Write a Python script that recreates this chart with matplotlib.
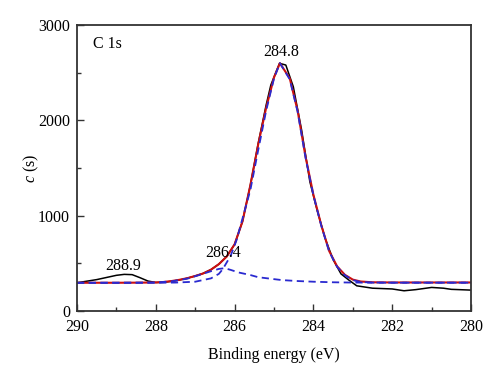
import numpy as np
import matplotlib.pyplot as plt
from matplotlib.ticker import MultipleLocator

e_exp = [290, 289.5, 289.0, 288.8, 288.6, 288.4, 288.2, 288.0, 287.8, 287.6,
         287.4, 287.2, 287.0, 286.8, 286.6, 286.4, 286.2, 286.0, 285.8, 285.6,
         285.4, 285.2, 285.08, 284.86, 284.7, 284.51, 284.3, 284.09, 283.9, 283.7,
         283.5, 283.3, 283.1, 282.9, 282.5, 282.0, 281.7, 281.4, 281.0, 280.7,
         280.5, 280.0]
c_exp = [297, 330, 375, 385, 382, 350, 315, 300, 302, 312,
         326, 345, 368, 395, 435, 492, 572, 700, 940, 1320,
         1760, 2160, 2371, 2598, 2580, 2353, 1900, 1357, 1050, 760,
         540, 390, 325, 265, 240, 232, 213, 225, 248, 240,
         228, 220]

e_fit = [290, 289.5, 289.0, 288.5, 288.0, 287.8, 287.6, 287.4, 287.2, 287.0,
         286.8, 286.6, 286.4, 286.2, 286.0, 285.8, 285.6, 285.4, 285.2, 285.0,
         284.85, 284.6, 284.4, 284.2, 284.0, 283.8, 283.6, 283.4, 283.2, 283.0,
         282.8, 282.5, 282.0, 281.0, 280.0]
c_fit = [297, 297, 297, 298, 300, 305, 315, 328, 345, 368,
         394, 434, 492, 572, 700, 940, 1320, 1750, 2130, 2450,
         2600, 2440, 2100, 1620, 1220, 900, 630, 470, 380, 330,
         310, 302, 300, 300, 300]

e_p1 = [290, 289.0, 288.0, 287.5, 287.0, 286.6, 286.4, 286.3, 286.1, 285.95,
        285.8, 285.6, 285.4, 285.2, 285.0, 284.85, 284.6, 284.4, 284.2, 284.0,
        283.8, 283.6, 283.4, 283.2, 283.0, 282.8, 282.5, 282.0, 280.0]
c_p1 = [297, 297, 297, 299, 308, 343, 390, 440, 580, 745,
        970, 1270, 1690, 2100, 2440, 2600, 2430, 2090, 1610, 1215,
        895, 625, 465, 375, 325, 305, 299, 298, 298]

e_p2 = [290, 289.0, 288.5, 288.0, 287.6, 287.2, 286.9, 286.6, 286.4, 286.25,
        286.1, 285.9, 285.6, 285.4, 285.0, 284.8, 284.4, 284.0, 283.5, 283.0,
        282.0, 280.0]
c_p2 = [297, 297, 298, 300, 312, 340, 378, 418, 442, 450,
        432, 405, 378, 355, 335, 325, 315, 308, 302, 299,
        298, 298]

etiquetas = [(289.6, 2800, 'C 1s', 'left'),
             (288.83, 470, '288.9', 'center'),
             (286.3, 610, '286.4', 'center'),
             (284.82, 2720, '284.8', 'center')]

plt.rcParams['font.family'] = ['Liberation Serif', 'DejaVu Serif']
plt.rcParams['font.size'] = 11.5
plt.rcParams['mathtext.fontset'] = 'custom'
plt.rcParams['mathtext.it'] = 'Liberation Serif:italic'
plt.rcParams['mathtext.rm'] = 'Liberation Serif'

fig = plt.figure(figsize=(5, 3.73), dpi=100)
ax = fig.add_axes([0.154, 0.166, 0.788, 0.767])

ax.plot(e_exp, c_exp, color='black', lw=1.1)
ax.plot(e_fit, c_fit, color='#cc1010', lw=1.5)
ax.plot(e_p1, c_p1, color='#2a2ad0', lw=1.3, ls=(0, (4, 2.5)))
ax.plot(e_p2, c_p2, color='#2a2ad0', lw=1.3, ls=(0, (4, 2.5)))

for x, y, txt, ha in etiquetas:
    ax.text(x, y, txt, ha=ha, va='center')

ax.set_xlim(290, 280)
ax.set_ylim(0, 3000)
ax.xaxis.set_major_locator(MultipleLocator(2))
ax.xaxis.set_minor_locator(MultipleLocator(1))
ax.yaxis.set_major_locator(MultipleLocator(1000))
ax.yaxis.set_minor_locator(MultipleLocator(500))
ax.tick_params(which='both', direction='in', top=False, right=False,
               color='#333333')
ax.tick_params(which='major', length=5, width=1)
ax.tick_params(which='minor', length=3, width=1)
ax.tick_params(axis='x', pad=6)
ax.tick_params(axis='y', pad=5)
for s in ax.spines.values():
    s.set_color('#333333')
    s.set_linewidth(1.3)

ax.set_xlabel('Binding energy (eV)', labelpad=8)
ax.set_ylabel('$c$ (s)', labelpad=-2)

fig.savefig('out.png', dpi=100)
